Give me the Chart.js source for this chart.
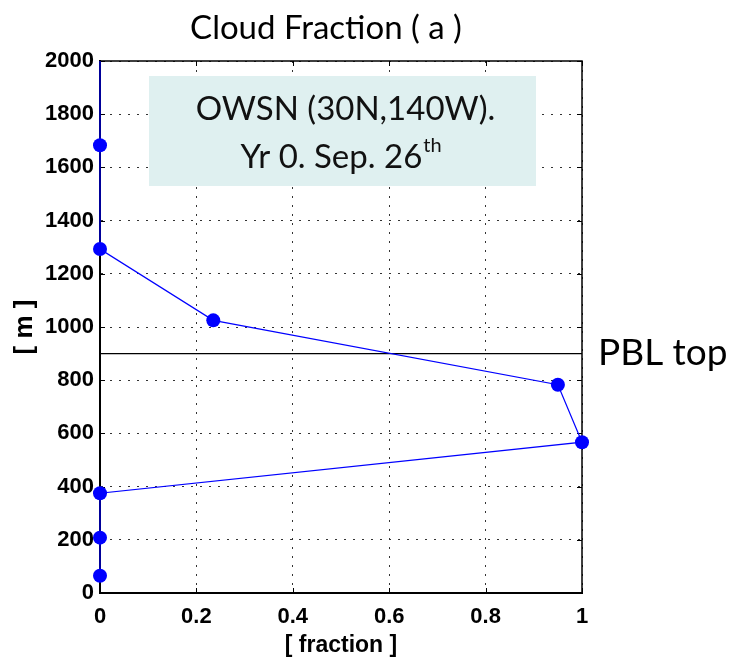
<!DOCTYPE html>
<html>
<head>
<meta charset="utf-8">
<script src="https://cdn.jsdelivr.net/npm/chart.js@4"></script>
<style>
  html, body { margin: 0; padding: 0; background: #ffffff; }
  #wrap { width: 731px; height: 661px; position: relative; }
</style>
</head>
<body>
<div id="wrap"><canvas id="c" width="731" height="661"></canvas></div>
<script>
// ---- data ----
const cloudFraction = [0, 0, 0, 1.0, 0.95, 0.235, 0, 0, 0];
const heightM       = [65, 208, 375, 567, 783, 1025, 1293, 1683, 2000];
const markerShown   = [1, 1, 1, 1, 1, 1, 1, 1, 0];
const pblTopHeight  = 900;
const pblLineX      = [0, 1];
const xTickValues   = [0, 0.2, 0.4, 0.6, 0.8, 1];
const yTickValues   = [0, 200, 400, 600, 800, 1000, 1200, 1400, 1600, 1800, 2000];
const titleText     = 'Cloud Fraction ( a )';
const xTitleText    = '[ fraction ]';
const yTitleText    = '[ m ]';
const pblLabel      = 'PBL top';
const noteLine1     = 'OWSN (30N,140W).';
const noteLine2     = 'Yr 0. Sep. 26';
const noteSup       = 'th';

const cloudPoints = cloudFraction.map((v, i) => ({ x: v, y: heightM[i] }));
const pblPoints = pblLineX.map(v => ({ x: v, y: pblTopHeight }));

const NOTE_FONT = '33px Lato, "Open Sans", sans-serif';
const SUP_FONT = '20px Lato, "Open Sans", sans-serif';

const decor = {
  id: 'decor',
  beforeDatasetsDraw(chart) {
    const ctx = chart.ctx;
    const a = chart.chartArea;
    const xs = chart.scales.x, ys = chart.scales.y;
    ctx.save();
    // inner tick marks (top / right / bottom / left)
    ctx.strokeStyle = '#000';
    ctx.lineWidth = 1;
    xTickValues.forEach(v => {
      const px = Math.round(xs.getPixelForValue(v)) + 0.5;
      ctx.beginPath(); ctx.moveTo(px, a.top); ctx.lineTo(px, a.top + 5); ctx.stroke();
      ctx.beginPath(); ctx.moveTo(px, a.bottom); ctx.lineTo(px, a.bottom - 5); ctx.stroke();
    });
    yTickValues.forEach(v => {
      const py = Math.round(ys.getPixelForValue(v)) + 0.5;
      ctx.beginPath(); ctx.moveTo(a.left, py); ctx.lineTo(a.left + 5, py); ctx.stroke();
      ctx.beginPath(); ctx.moveTo(a.right, py); ctx.lineTo(a.right - 5, py); ctx.stroke();
    });
    // annotation box
    const bx = 149, by = 76, bw = 387, bh = 110;
    ctx.fillStyle = '#dff0f0';
    ctx.fillRect(bx, by, bw, bh);
    ctx.fillStyle = '#111';
    ctx.textBaseline = 'middle';
    ctx.textAlign = 'center';
    ctx.font = NOTE_FONT;
    ctx.fillText(noteLine1, bx + bw / 2 + 3, 109);
    const w2 = ctx.measureText(noteLine2).width;
    ctx.font = SUP_FONT;
    const ws = ctx.measureText(noteSup).width;
    const startX = bx + bw / 2 - (w2 + ws) / 2 - 2;
    ctx.textAlign = 'left';
    ctx.font = NOTE_FONT;
    ctx.fillText(noteLine2, startX, 157);
    ctx.font = SUP_FONT;
    ctx.fillText(noteSup, startX + w2 + 1, 146);
    // frame
    ctx.strokeStyle = '#000';
    ctx.lineWidth = 1.5;
    ctx.strokeRect(a.left, a.top, a.right - a.left, a.bottom - a.top);
    ctx.lineWidth = 2;
    ctx.beginPath(); ctx.moveTo(a.left, a.top); ctx.lineTo(a.left, a.bottom); ctx.lineTo(a.right, a.bottom); ctx.stroke();
    ctx.restore();
  },
  afterDraw(chart) {
    const ctx = chart.ctx;
    const a = chart.chartArea;
    const ys = chart.scales.y;
    ctx.save();
    ctx.fillStyle = '#000';
    ctx.textBaseline = 'middle';
    ctx.textAlign = 'left';
    ctx.font = '37px Lato, "Open Sans", sans-serif';
    ctx.fillText(pblLabel, a.right + 16, ys.getPixelForValue(pblTopHeight) - 1);
    ctx.textAlign = 'center';
    ctx.font = '33px Lato, "Open Sans", sans-serif';
    ctx.fillText(titleText, 326, 28);
    ctx.restore();
  }
};

new Chart(document.getElementById('c'), {
  type: 'scatter',
  data: {
    datasets: [
      {
        label: 'Cloud fraction',
        data: cloudPoints,
        showLine: true,
        borderColor: '#0000ff',
        borderWidth: 1.2,
        backgroundColor: '#0000ff',
        pointBackgroundColor: '#0000ff',
        pointBorderWidth: 0,
        pointRadius: markerShown.map(m => m ? 7 : 0),
        clip: false,
        order: 1
      },
      {
        label: 'PBL top',
        data: pblPoints,
        showLine: true,
        borderColor: '#000000',
        borderWidth: 1.2,
        pointRadius: 0,
        clip: false,
        order: 2
      }
    ]
  },
  options: {
    responsive: false,
    animation: false,
    devicePixelRatio: 1,
    layout: { padding: { left: 0, right: 149, top: 61, bottom: 0 } },
    plugins: { legend: { display: false }, tooltip: { enabled: false }, title: { display: false } },
    scales: {
      x: {
        type: 'linear',
        min: 0, max: 1,
        afterFit(s) { s.height = 68; },
        afterBuildTicks(s) { s.ticks = xTickValues.map(v => ({ value: v })); },
        ticks: {
          color: '#000',
          padding: 11,
          maxRotation: 0,
          font: { family: '"Liberation Sans", Arial, sans-serif', size: 22, weight: 'bold' },
          callback: v => String(v)
        },
        grid: { color: '#333', lineWidth: 1, drawTicks: false },
        border: { display: true, color: '#000', width: 2, dash: [2, 7] },
        title: {
          display: true, text: xTitleText, color: '#000',
          padding: { top: 0, bottom: 2 },
          font: { family: '"Liberation Sans", Arial, sans-serif', size: 23, weight: 'bold' }
        }
      },
      y: {
        type: 'linear',
        min: 0, max: 2000,
        afterFit(s) { s.width = 100; },
        afterBuildTicks(s) { s.ticks = yTickValues.map(v => ({ value: v })); },
        ticks: {
          color: '#000',
          padding: 6,
          font: { family: '"Liberation Sans", Arial, sans-serif', size: 22, weight: 'bold' },
          callback: v => String(v)
        },
        grid: { color: '#333', lineWidth: 1, drawTicks: false },
        border: { display: true, color: '#000', width: 2, dash: [2, 7] },
        title: {
          display: true, text: yTitleText, color: '#000',
          padding: { top: 9, bottom: 0 },
          font: { family: '"Liberation Sans", Arial, sans-serif', size: 26, weight: 'bold' }
        }
      }
    }
  },
  plugins: [decor]
});
</script>
</body>
</html>
